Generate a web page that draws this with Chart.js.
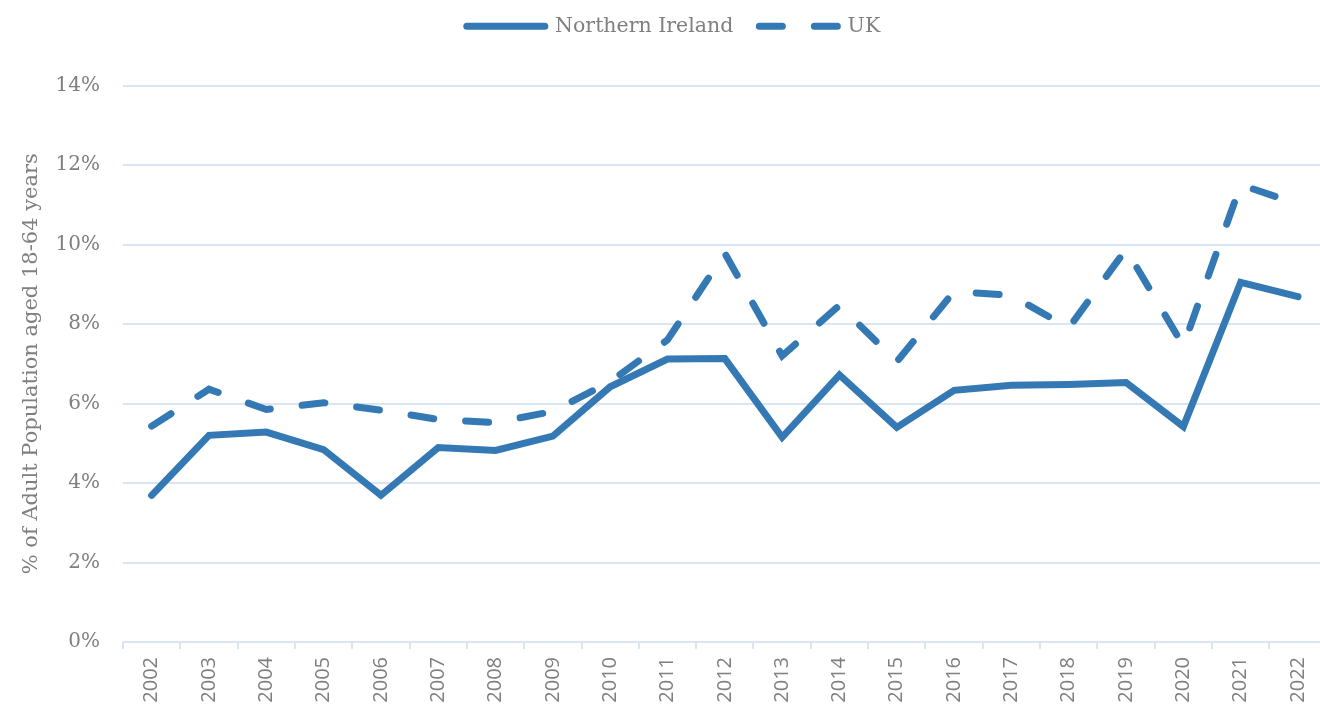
<!DOCTYPE html>
<html>
<head>
<meta charset="utf-8">
<script src="https://cdn.jsdelivr.net/npm/chart.js@4/dist/chart.umd.min.js"></script>
<style>
  html, body { margin: 0; padding: 0; background: #fff; overflow: hidden; }
  #wrap { position: absolute; left: 0; top: 0; width: 1330px; height: 710px; }
</style>
</head>
<body>
<div id="wrap"><canvas id="grafico" width="1330" height="710"></canvas></div>
<script>
// datos
const years = ['2002','2003','2004','2005','2006','2007','2008','2009','2010','2011',
  '2012','2013','2014','2015','2016','2017','2018','2019','2020','2021','2022'];
const northernIreland = [3.69, 5.2, 5.28, 4.84, 3.69, 4.89, 4.82, 5.18, 6.42, 7.12,
  7.13, 5.15, 6.72, 5.4, 6.33, 6.46, 6.48, 6.53, 5.42, 9.05, 8.69];
const uk = [5.43, 6.36, 5.85, 6.02, 5.83, 5.6, 5.52, 5.8, 6.55, 7.6,
  9.78, 7.2, 8.47, 7.05, 8.82, 8.72, 7.9, 9.88, 7.45, 11.5, 11.02];
const yTicks = [0, 2, 4, 6, 8, 10, 12, 14];

const azul = '#3479B4';
const gris = '#7f7f7f';
const rejilla = '#D9E5F4';
const serif = '"DejaVu Serif", "Liberation Serif", serif';

// espacio extra entre la leyenda y el área del gráfico
const huecoLeyenda = {
  id: 'huecoLeyenda',
  beforeLayout(chart) {
    const lg = chart.legend;
    if (!lg || lg._parcheado) return;
    const fit = lg.fit.bind(lg);
    lg.fit = function () { fit(); this.height += 39; };
    lg._parcheado = true;
  }
};

const ctx = document.getElementById('grafico').getContext('2d');
new Chart(ctx, {
  type: 'line',
  data: {
    labels: years,
    datasets: [
      { label: 'Northern Ireland', data: northernIreland, borderColor: azul, backgroundColor: azul,
        borderWidth: 7, pointRadius: 0, tension: 0, borderCapStyle: 'round', borderJoinStyle: 'miter' },
      { label: 'UK', data: uk, borderColor: azul, backgroundColor: azul,
        borderWidth: 7, pointRadius: 0, tension: 0, borderDash: [23, 32],
        borderCapStyle: 'round', borderJoinStyle: 'miter' }
    ]
  },
  plugins: [huecoLeyenda],
  options: {
    responsive: false,
    animation: false,
    layout: { padding: { left: 17, right: 0, top: -10, bottom: 0 } },
    plugins: {
      tooltip: { enabled: false },
      legend: {
        position: 'top',
        labels: {
          usePointStyle: true,
          pointStyle: 'line',
          pointStyleWidth: 78,
          boxHeight: 21,
          padding: 26,
          color: gris,
          font: { family: serif, size: 20.5 },
          generateLabels: (chart) => {
            const items = Chart.defaults.plugins.legend.labels.generateLabels(chart);
            items.forEach((it) => {
              const ds = chart.data.datasets[it.datasetIndex];
              it.lineDash = ds.borderDash || [];
              it.lineCap = 'round';
              it.lineWidth = 7;
            });
            return items;
          }
        }
      }
    },
    scales: {
      x: {
        offset: true,
        grid: { display: true, drawOnChartArea: false, drawTicks: true, tickLength: 7,
          color: rejilla, lineWidth: 2, offset: true },
        border: { display: false },
        ticks: { color: gris, font: { family: '"Open Sans", sans-serif', size: 20 },
          minRotation: 90, maxRotation: 90, padding: 8, autoSkip: false },
        afterFit: (scale) => { scale.height = 68; }
      },
      y: {
        min: 0, max: 14,
        afterBuildTicks: (scale) => { scale.ticks = yTicks.map(v => ({ value: v })); },
        grid: { color: rejilla, lineWidth: 2, drawTicks: false },
        border: { display: false },
        ticks: { color: gris, padding: 23, font: { family: serif, size: 20 },
          callback: (v) => v + '%' },
        title: { display: true, text: '% of Adult Population aged 18-64 years', color: gris,
          font: { family: serif, size: 21 }, padding: { top: 2, bottom: 0 } },
        afterFit: (scale) => { scale.width = 106; }
      }
    }
  }
});
</script>
</body>
</html>
